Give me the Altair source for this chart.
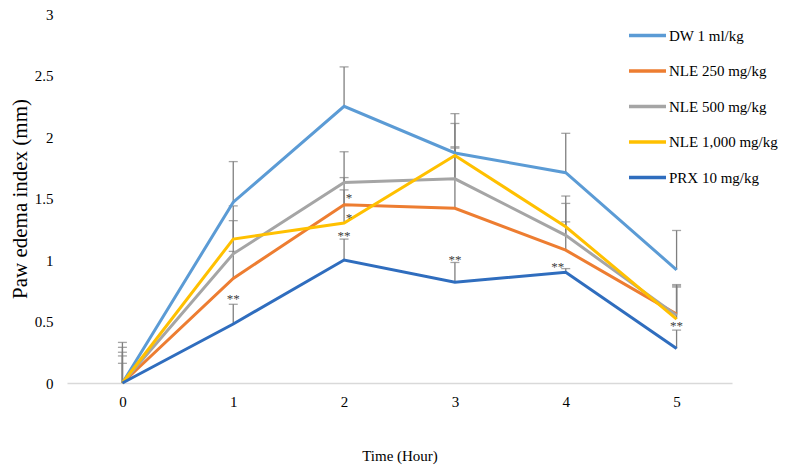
import altair as alt
import pandas as pd

hours = [0, 1, 2, 3, 4, 5]
series = ["DW 1 ml/kg", "NLE 250 mg/kg", "NLE 500 mg/kg", "NLE 1,000 mg/kg", "PRX 10 mg/kg"]
colors = ["#5B9BD5", "#ED7D31", "#A5A5A5", "#FFC000", "#2F6DBE"]

dw = [0, 1.47, 2.25, 1.87, 1.71, 0.92]
nle250 = [0, 0.85, 1.45, 1.42, 1.08, 0.56]
nle500 = [0, 1.05, 1.63, 1.66, 1.20, 0.55]
nle1000 = [0, 1.17, 1.30, 1.85, 1.27, 0.52]
prx = [0, 0.48, 1.00, 0.82, 0.90, 0.28]

dw_top = [0.33, 1.80, 2.57, 2.19, 2.03, 1.24]
nle250_top = [0.22, 1.07, 1.67, 1.91, 1.31, 0.79]
nle500_top = [0.29, 1.32, 1.88, 1.92, 1.46, 0.80]
nle1000_top = [0.25, 1.44, 1.57, 2.11, 1.52, 0.78]
prx_top = [0.16, 0.64, 1.17, 0.98, 0.93, 0.43]

# significance marks: (hour, y, text)
star_hours = [1, 2, 2, 2, 3, 4, 5]
star_y = [0.70, 1.52, 1.36, 1.21, 1.02, 0.96, 0.48]
star_text = ["**", "*", "*", "**", "**", "**", "**"]
star_group = ["c", "r", "r", "c", "c", "l", "c"]

vals = [dw, nle250, nle500, nle1000, prx]
tops = [dw_top, nle250_top, nle500_top, nle1000_top, prx_top]
rows = []
for si, name in enumerate(series):
    for h, v, t in zip(hours, vals[si], tops[si]):
        rows.append({"hour": h, "value": v, "top": t, "series": name, "order": si})
df = pd.DataFrame(rows)
stars = pd.DataFrame({"hour": star_hours, "y": star_y, "text": star_text, "grp": star_group})

FONT = "Liberation Serif, Times New Roman, serif"

x = alt.X("hour:Q", scale=alt.Scale(domain=[-0.5, 5.5], nice=False, zero=False),
          axis=alt.Axis(values=hours, format="d", title="Time (Hour)", grid=False, ticks=False,
                        domainColor="#D9D9D9", domainWidth=1.5, labelPadding=11,
                        labelFontSize=15, titleFontSize=15, titlePadding=39,
                        labelColor="#000000", titleColor="#000000", titleFontWeight="normal",
                        labelFont=FONT, titleFont=FONT))
y = alt.Y("value:Q", scale=alt.Scale(domain=[0, 3], nice=False),
          axis=alt.Axis(values=[0, 0.5, 1, 1.5, 2, 2.5, 3], format="~g", title="Paw edema index (mm)",
                        grid=False, ticks=False, domain=False, labelPadding=14,
                        labelFontSize=15, titleFontSize=21, titlePadding=4,
                        labelColor="#000000", titleColor="#000000", titleFontWeight="normal",
                        labelFont=FONT, titleFont=FONT))

base = alt.Chart(df)

err = base.mark_rule(color="#7F7F7F", strokeWidth=1.3).encode(
    x=x, y=y, y2="top:Q", detail="series:N")
caps = base.mark_tick(color="#7F7F7F", orient="horizontal", size=9, thickness=1.3).encode(
    x=alt.X("hour:Q"), y=alt.Y("top:Q"))

lines = base.mark_line(strokeWidth=3).encode(
    x=x, y=y,
    color=alt.Color("series:N", scale=alt.Scale(domain=series, range=colors),
                    sort=series,
                    legend=alt.Legend(title=None, orient="none", legendX=560, legendY=1,
                                      symbolType="stroke", symbolSize=1369, symbolStrokeWidth=3.5,
                                      labelFontSize=15, labelFont=FONT, labelColor="#000000",
                                      labelOffset=1, rowPadding=6.5, padding=0, labelLimit=300)),
    order="order:Q")

def star_layer(grp, dx):
    return alt.Chart(stars).transform_filter(alt.datum.grp == grp).mark_text(
        font=FONT, fontSize=13, color="#404040", baseline="alphabetic", dy=6, dx=dx
    ).encode(x=alt.X("hour:Q"), y=alt.Y("y:Q"), text="text:N")

chart = alt.layer(err, caps, lines, star_layer("c", 0), star_layer("r", 5), star_layer("l", -8)).properties(
    width=665, height=369,
    padding={"left": 59, "top": 6, "right": 47, "bottom": 83},
    autosize=alt.AutoSizeParams(type="none"),
    background="#FFFFFF",
).configure_view(stroke=None)

chart.save("out.html", embed_options={"renderer": "svg", "actions": False})
